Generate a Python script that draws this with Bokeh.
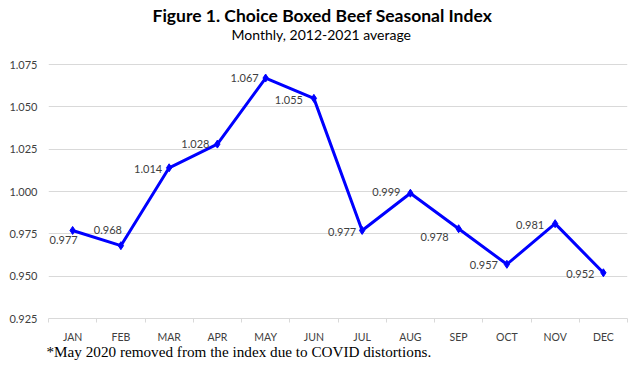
from bokeh.plotting import figure
from bokeh.models import Range1d, FixedTicker, Title, ColumnDataSource
from bokeh.embed import file_html
from bokeh.resources import INLINE

months = ["JAN", "FEB", "MAR", "APR", "MAY", "JUN", "JUL", "AUG", "SEP", "OCT", "NOV", "DEC"]
index_values = [0.977, 0.968, 1.014, 1.028, 1.067, 1.055, 0.977, 0.999, 0.978, 0.957, 0.981, 0.952]
y_ticks = [0.925, 0.950, 0.975, 1.000, 1.025, 1.050, 1.075]

title_text = "Figure 1. Choice Boxed Beef Seasonal Index"
subtitle_text = "Monthly, 2012-2021 average"
footnote_text = "*May 2020 removed from the index due to COVID distortions."

# label placement (screen pixel offsets relative to each point)
label_dx = [-9, -13, -21, -22, -21, -25, -20, -24, -24, -23, -25, -23]
label_dy = [10, -16, 1, 0, 0, 2, 2, -1, 8, 1, 1, 1]

FONT = "Lato"
BLUE = "#0000FF"
GRID = "#D9D9D9"
TXT = "#404040"

W, H = 639, 372
frame_left, frame_right = 48, 627
frame_top, frame_bottom = 42, 318
px_per_unit = (318 - 64) / (1.075 - 0.925)
y_end = 1.075 + (64 - frame_top) / px_per_unit

p = figure(width=W, height=H, output_backend="svg", toolbar_location=None,
           x_range=Range1d(0, len(months)), y_range=Range1d(0.925, y_end),
           min_border_left=frame_left, min_border_right=W - frame_right,
           min_border_top=frame_top, min_border_bottom=H - frame_bottom)
p.outline_line_color = None
p.background_fill_color = "white"
p.border_fill_color = "white"

xs = [i + 0.5 for i in range(len(months))]
src = ColumnDataSource(dict(x=xs, y=index_values,
                            lab=["%.3f" % v for v in index_values],
                            dx=label_dx, dy=label_dy))

p.xaxis.ticker = FixedTicker(ticks=xs, minor_ticks=list(range(len(months) + 1)))
p.xaxis.major_label_overrides = {x: m for x, m in zip(xs, months)}
p.xaxis.major_tick_line_color = None
p.xaxis.major_tick_out = 0
p.xaxis.major_tick_in = 0
p.xaxis.minor_tick_line_color = GRID
p.xaxis.minor_tick_out = 4
p.xaxis.minor_tick_in = 0
p.xaxis.axis_line_color = GRID
p.xaxis.major_label_standoff = 8
p.xaxis.major_label_text_font = FONT
p.xaxis.major_label_text_font_size = "10.5px"
p.xaxis.major_label_text_color = TXT
p.xgrid.grid_line_color = None

p.yaxis.ticker = FixedTicker(ticks=y_ticks)
p.yaxis.major_label_overrides = {t: "%.3f" % t for t in y_ticks}
p.yaxis.axis_line_color = None
p.yaxis.major_tick_line_color = None
p.yaxis.major_tick_out = 0
p.yaxis.major_tick_in = 0
p.yaxis.minor_tick_line_color = None
p.yaxis.major_label_standoff = 11
p.yaxis.major_label_text_font = FONT
p.yaxis.major_label_text_font_size = "11px"
p.yaxis.major_label_text_color = TXT
p.ygrid.ticker = FixedTicker(ticks=y_ticks)
p.ygrid.grid_line_color = GRID
p.ygrid.grid_line_width = 1

p.line("x", "y", source=src, line_color=BLUE, line_width=3)
p.scatter("x", "y", source=src, marker="diamond", size=8, color=BLUE)
p.text("x", "y", text="lab", source=src, x_offset="dx", y_offset="dy",
       text_align="center", text_baseline="middle",
       text_font={"value": FONT}, text_font_size={"value": "11px"}, text_color=TXT)

p.title.visible = False
p.add_layout(Title(text=subtitle_text, align="left", text_font=FONT,
                   text_font_style="normal", text_font_size="14px",
                   text_color="#000000", standoff=0, offset=183), "above")
p.add_layout(Title(text=title_text, align="left", text_font=FONT,
                   text_font_style="bold", text_font_size="17.5px",
                   text_color="#000000", standoff=-5, offset=104), "above")
p.add_layout(Title(text=footnote_text, align="left", text_font="Liberation Serif",
                   text_font_style="normal", text_font_size="15.2px",
                   text_color="#000000", standoff=-9, offset=-2), "below")

open("out.html", "w").write(file_html(p, INLINE))
